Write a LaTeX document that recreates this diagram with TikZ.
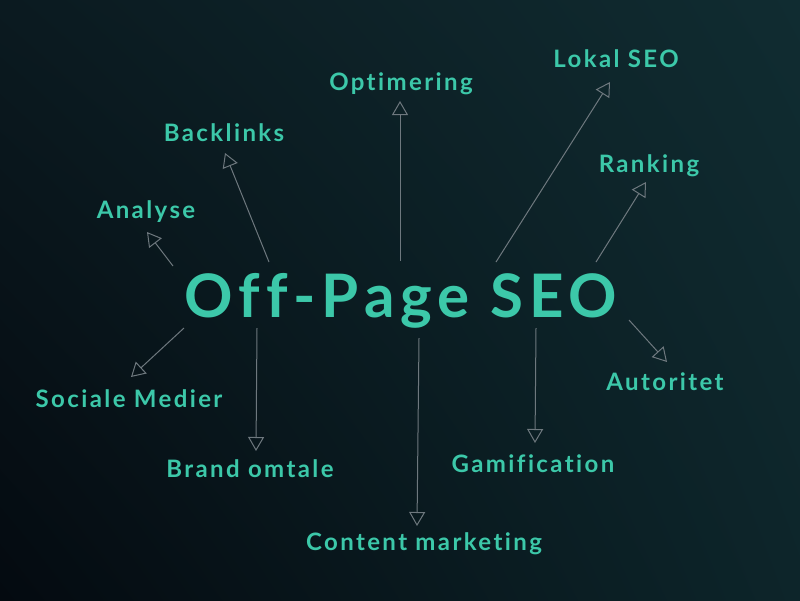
\documentclass[tikz,border=0pt]{standalone}
\usepackage{fontspec}
\setmainfont{Lato}[LetterSpace=10,Ligatures={NoCommon}]
\usetikzlibrary{arrows.meta,shadings}
\definecolor{seoteal}{HTML}{3CC8A9}
\definecolor{arrowgray}{HTML}{6E787E}
\definecolor{bgTL}{HTML}{0B1A20}
\definecolor{bgTR}{HTML}{102C31}
\definecolor{bgBL}{HTML}{040A10}
\definecolor{bgBR}{HTML}{0D252A}
\begin{document}
\begin{tikzpicture}[x=1pt,y=-1pt,
  lbl/.style={text=seoteal,anchor=base,inner sep=0pt,font=\fontsize{24}{27}\selectfont\bfseries},
  ttl/.style={text=seoteal,anchor=base,inner sep=0pt,font=\fontsize{60}{66}\selectfont\bfseries},
  conn/.style={draw=arrowgray,line width=1pt,-{Triangle[open,length=14pt,width=16pt]}}]
\shade[upper left=bgTL,upper right=bgTR,lower left=bgBL,lower right=bgBR] (0,0) rectangle (800,600);
\useasboundingbox (0,0) rectangle (800,600);
\node[ttl] (title) at (401,317) {Off-Page SEO};
\node[lbl] (analyse) at (146,218) {Analyse};
\node[lbl] (backlinks) at (224,141) {Backlinks};
\node[lbl] (optimering) at (401,90) {Optimering};
\node[lbl] (lokal) at (616,67) {Lokal SEO};
\node[lbl] (ranking) at (649,172) {Ranking};
\node[lbl] (autoritet) at (665,390) {Autoritet};
\node[lbl] (gamification) at (533,472) {Gamification};
\node[lbl] (content) at (424,550) {Content marketing};
\node[lbl] (brand) at (250,477) {Brand omtale};
\node[lbl] (sociale) at (129,407) {Sociale Medier};
\coordinate (sA) at (173,266); \coordinate (tA) at (147,232);
\coordinate (sB) at (269,262); \coordinate (tB) at (225,153);
\coordinate (sO) at (400,261); \coordinate (tO) at (400,101);
\coordinate (sL) at (496,262); \coordinate (tL) at (610,82);
\coordinate (sR) at (596,262); \coordinate (tR) at (646,182);
\coordinate (sAu) at (629,320); \coordinate (tAu) at (667,362);
\coordinate (sG) at (536,328); \coordinate (tG) at (535,443);
\coordinate (sC) at (419,338); \coordinate (tC) at (417,526);
\coordinate (sBr) at (257,328); \coordinate (tBr) at (256,451);
\coordinate (sS) at (184,328); \coordinate (tS) at (131,377);
\draw[conn] (sA) -- (tA);
\draw[conn] (sB) -- (tB);
\draw[conn] (sO) -- (tO);
\draw[conn] (sL) -- (tL);
\draw[conn] (sR) -- (tR);
\draw[conn] (sAu) -- (tAu);
\draw[conn] (sG) -- (tG);
\draw[conn] (sC) -- (tC);
\draw[conn] (sBr) -- (tBr);
\draw[conn] (sS) -- (tS);
\end{tikzpicture}
\end{document}
